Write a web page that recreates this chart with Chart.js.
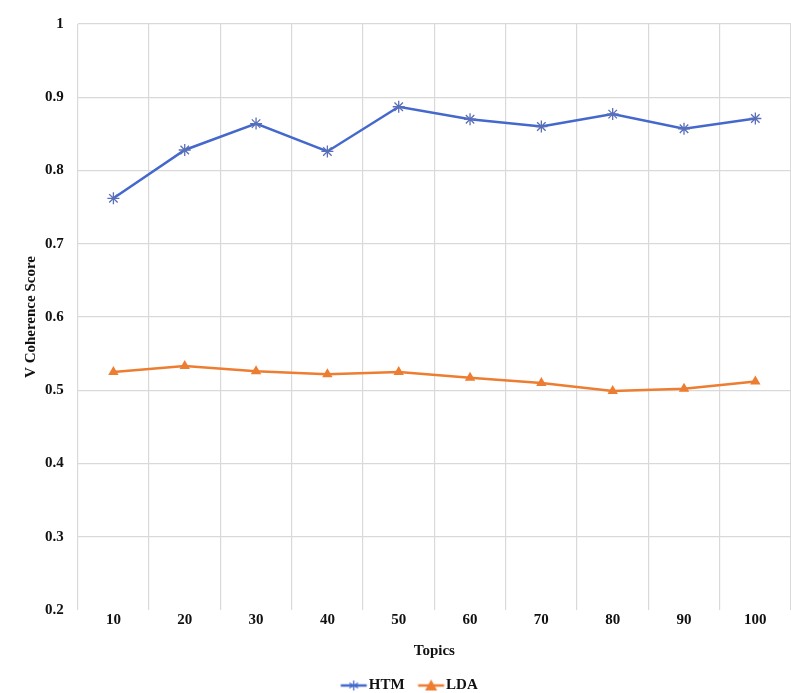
<!DOCTYPE html>
<html>
<head>
<meta charset="utf-8">
<script src="https://cdn.jsdelivr.net/npm/chart.js@4/dist/chart.umd.min.js"></script>
<style>
  html, body { margin: 0; padding: 0; background: #ffffff; }
  #wrap { width: 791px; height: 693px; position: relative; }
</style>
</head>
<body>
<div id="wrap"><canvas id="c" width="791" height="693"></canvas></div>
<script>
const categories = ['10', '20', '30', '40', '50', '60', '70', '80', '90', '100'];
const htmValues = [0.762, 0.828, 0.864, 0.826, 0.887, 0.870, 0.860, 0.877, 0.857, 0.871];
const ldaValues = [0.525, 0.533, 0.526, 0.522, 0.525, 0.517, 0.510, 0.499, 0.502, 0.512];
const yTicks = [0.2, 0.3, 0.4, 0.5, 0.6, 0.7, 0.8, 0.9, 1];

const BLUE = '#4468cc';
const ORANGE = '#ed7d31';
const FONT = '"Liberation Serif", "Times New Roman", serif';

// legend icon: line with marker; drawn offset so the text sits close to it
function legendIcon(color, style) {
  const W = 60, H = 14, a = 24.5, b = 50.5, cx = (a + b) / 2, cy = 7;
  const cv = document.createElement('canvas');
  cv.width = W; cv.height = H;
  const ctx = cv.getContext('2d');
  ctx.strokeStyle = color; ctx.lineWidth = 2.5;
  ctx.beginPath(); ctx.moveTo(a, cy); ctx.lineTo(b, cy); ctx.stroke();
  ctx.lineWidth = 1.3;
  if (style === 'star') {
    const r = 5;
    ctx.beginPath();
    ctx.moveTo(cx, cy - r); ctx.lineTo(cx, cy + r);
    ctx.moveTo(cx - r * 0.87, cy - r / 2); ctx.lineTo(cx + r * 0.87, cy + r / 2);
    ctx.moveTo(cx - r * 0.87, cy + r / 2); ctx.lineTo(cx + r * 0.87, cy - r / 2);
    ctx.stroke();
  } else {
    ctx.fillStyle = color;
    ctx.beginPath(); ctx.moveTo(cx, cy - 6); ctx.lineTo(cx + 6, cy + 5); ctx.lineTo(cx - 6, cy + 5); ctx.closePath(); ctx.fill();
  }
  return cv;
}
const icons = { HTM: legendIcon(BLUE, 'star'), LDA: legendIcon(ORANGE, 'tri') };

new Chart(document.getElementById('c'), {
  type: 'line',
  data: {
    labels: categories,
    datasets: [
      {
        label: 'HTM', data: htmValues, borderColor: BLUE, backgroundColor: BLUE,
        borderWidth: 2.5, pointStyle: 'star', pointRadius: 6, pointBorderWidth: 1.3,
        pointBorderColor: '#5a6fb8', tension: 0
      },
      {
        label: 'LDA', data: ldaValues, borderColor: ORANGE, backgroundColor: ORANGE,
        borderWidth: 2.5, pointStyle: 'triangle', pointRadius: 6, pointBorderWidth: 0,
        tension: 0
      }
    ]
  },
  options: {
    responsive: false,
    animation: false,
    devicePixelRatio: 1,
    layout: { autoPadding: false, padding: { left: 18, right: 0, top: 24, bottom: -10 } },
    plugins: {
      legend: {
        position: 'bottom',
        labels: {
          usePointStyle: true,
          pointStyleWidth: 30,
          color: '#111',
          font: { family: FONT, size: 15, weight: 'bold' },
          padding: 4,
          generateLabels(chart) {
            return chart.data.datasets.map((ds, i) => ({
              text: ds.label, pointStyle: icons[ds.label], fillStyle: ds.borderColor,
              strokeStyle: ds.borderColor, lineWidth: 0, datasetIndex: i, hidden: false,
              fontColor: '#111'
            }));
          }
        }
      },
      tooltip: { enabled: false }
    },
    scales: {
      x: {
        offset: true,
        grid: { offset: true, color: '#d9d9d9', lineWidth: 1.2, drawTicks: false },
        border: { display: false },
        ticks: { color: '#111', font: { family: FONT, size: 15, weight: 'bold' }, padding: 1 },
        title: { display: true, text: 'Topics', color: '#111', font: { family: FONT, size: 15, weight: 'bold' }, padding: { top: 12, bottom: 14 } }
      },
      y: {
        min: 0.2, max: 1,
        afterBuildTicks(axis) { axis.ticks = yTicks.map(v => ({ value: v })); },
        grid: {
          color: ctx => (ctx.tick && Math.abs(ctx.tick.value - 0.2) < 1e-9) ? 'rgba(0,0,0,0)' : '#d9d9d9',
          lineWidth: 1.2, drawTicks: false
        },
        border: { display: false },
        ticks: {
          color: '#111', font: { family: FONT, size: 15, weight: 'bold' }, padding: 14,
          callback: v => String(Math.round(v * 10) / 10)
        },
        title: { display: true, text: 'V Coherence Score', color: '#111', font: { family: FONT, size: 15, weight: 'bold' }, padding: { top: 4, bottom: -9 } }
      }
    }
  }
});
</script>
</body>
</html>
